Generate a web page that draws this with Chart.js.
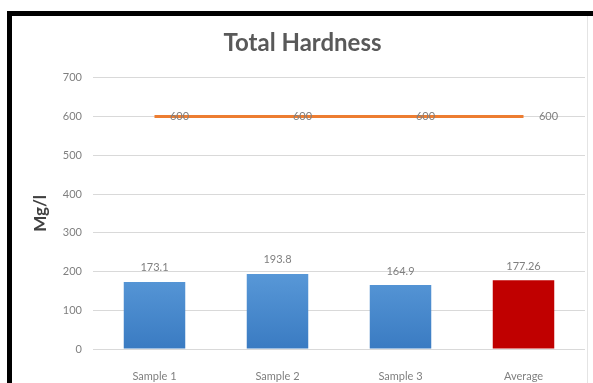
<!DOCTYPE html>
<html>
<head>
<meta charset="utf-8">
<script src="https://cdn.jsdelivr.net/npm/chart.js@4/dist/chart.umd.min.js"></script>
<style>
  html, body { margin: 0; padding: 0; background: #fff; }
  #wrap { position: relative; width: 593px; height: 383px; overflow: hidden; }
  #c { position: absolute; left: 0; top: 0; }
  #frame { position: absolute; left: 7px; top: 11px; right: 0; bottom: 0;
           border-top: 5px solid #000; border-left: 5px solid #000; pointer-events: none; }
  #edge { position: absolute; left: 587px; top: 16px; width: 1px; bottom: 0; background: #e4e4e4; }
</style>
</head>
<body>
<div id="wrap">
  <canvas id="c" width="593" height="383"></canvas>
  <div id="edge"></div>
  <div id="frame"></div>
</div>
<script>
const categories = ['Sample 1', 'Sample 2', 'Sample 3', 'Average'];
const hardnessValues = [173.1, 193.8, 164.9, 177.26];
const limitValues = [600, 600, 600, 600];
const yTicks = [0, 100, 200, 300, 400, 500, 600, 700];

const FONT = 'Lato, "Open Sans", sans-serif';

// Value labels drawn above bars and beside the line points
const valueLabels = {
  id: 'valueLabels',
  afterDatasetsDraw(chart) {
    const ctx = chart.ctx;
    ctx.save();
    ctx.font = '11px ' + FONT;
    ctx.fillStyle = '#7f7f7f';
    ctx.textBaseline = 'middle';
    const barMeta = chart.getDatasetMeta(0);
    ctx.textAlign = 'center';
    barMeta.data.forEach((el, i) => {
      ctx.fillText(String(hardnessValues[i]), el.x, el.y - 14);
    });
    const lineMeta = chart.getDatasetMeta(1);
    lineMeta.data.forEach((el, i) => {
      ctx.fillText(String(limitValues[i]), el.x + 25, el.y);
    });
    ctx.restore();
  }
};

const ctx = document.getElementById('c').getContext('2d');

function barGradient(context) {
  const area = context.chart.chartArea;
  if (!area) return '#5b9bd5';
  const g = context.chart.ctx.createLinearGradient(0, area.top + 150, 0, area.bottom);
  g.addColorStop(0, '#6aa9e4');
  g.addColorStop(1, '#3a7bc2');
  return g;
}

new Chart(ctx, {
  data: {
    labels: categories,
    datasets: [
      {
        type: 'bar',
        data: hardnessValues,
        backgroundColor: (c) => c.dataIndex === 3 ? '#c00000' : barGradient(c),
        categoryPercentage: 1,
        barPercentage: 0.5,
        order: 2
      },
      {
        type: 'line',
        data: limitValues,
        borderColor: '#ed7d31',
        borderWidth: 3,
        pointRadius: 0,
        fill: false,
        order: 1
      }
    ]
  },
  options: {
    responsive: false,
    animation: false,
    events: [],
    layout: { padding: { left: 20, right: 8, top: 0, bottom: 0 } },
    plugins: {
      legend: { display: false },
      tooltip: { enabled: false },
      title: {
        display: true,
        text: 'Total Hardness',
        color: '#595959',
        font: { family: FONT, size: 24, weight: 'bold', lineHeight: 1.2 },
        padding: { top: 29, bottom: 20 }
      }
    },
    scales: {
      x: {
        grid: { display: false },
        border: { display: false },
        ticks: { color: '#7f7f7f', font: { family: FONT, size: 11 }, padding: 13 },
        afterFit(scale) { scale.height = 34; }
      },
      y: {
        min: 0,
        max: 700,
        afterBuildTicks(scale) { scale.ticks = yTicks.map(v => ({ value: v })); },
        grid: { color: '#d9d9d9', lineWidth: 1, drawTicks: false },
        border: { display: false },
        ticks: { color: '#7f7f7f', font: { family: FONT, size: 11 }, padding: 11 },
        title: {
          display: true,
          text: 'Mg/l',
          color: '#404040',
          font: { family: FONT, size: 17, weight: 'bold' },
          padding: { top: 10, bottom: 0 }
        },
        afterFit(scale) { scale.width = 73; }
      }
    }
  },
  plugins: [valueLabels]
});
</script>
</body>
</html>
